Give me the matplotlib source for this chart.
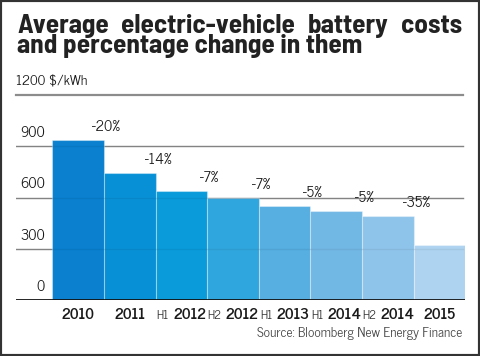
import matplotlib
matplotlib.use("Agg")
import matplotlib.pyplot as plt
from matplotlib.patches import Rectangle
from matplotlib.offsetbox import TextArea, HPacker, AnnotationBbox

# ---- data ----
categories = ["2010", "2011", "H1 2012", "H2 2012", "H1 2013", "H1 2014", "H2 2014", "2015"]
costs = [935, 745, 640, 595, 550, 522, 493, 323]
changes = ["-20%", "-14%", "-7%", "-7%", "-5%", "-5%", "-35%"]
bar_colors = ["#0a80cf", "#0890d6", "#0a9bdb", "#30a6de", "#56aee1", "#72b8e5", "#8fc4ea", "#aed3f0"]
yticks = [0, 300, 600, 900]
top_tick = 1200
unit_label = "1200 $/kWh"
title_lines = ["Average electric-vehicle battery costs", "and percentage change in them"]
source = "Source: Bloomberg New Energy Finance"

W, H = 480, 356
fig = plt.figure(figsize=(W / 100, H / 100), dpi=100)
fig.patch.set_facecolor("white")

NARROW = ["Barlow Semi Condensed", "DejaVu Sans"]
SANS = ["News Cycle", "Liberation Sans", "DejaVu Sans"]

left_px, right_px = 16, 465.3
base_px, top_px = 300, 95
ax = fig.add_axes([left_px / W, (H - base_px) / H, (right_px - left_px) / W, (base_px - top_px) / H])
bar_w_px = 51.6
xl = -0.5 - (52.3 - left_px) / bar_w_px
ax.set_xlim(xl, len(categories) - 0.5)
ax.set_ylim(0, top_tick)
ax.axis("off")

x = list(range(len(categories)))
grid_right = (463 - left_px) / (right_px - left_px)
for v in yticks[1:]:
    ax.axhline(v, xmin=0, xmax=grid_right, color="#8c8c8c", lw=1.0, zorder=0)
    ax.axhline(v, xmin=0, xmax=grid_right, color="black", alpha=0.06, lw=1.0, zorder=3)
ax.axhline(top_tick, xmin=0, xmax=grid_right, color="#8c8c8c", lw=1.6, zorder=0, clip_on=False)

ax.bar(x, costs, width=1.0, color=bar_colors, edgecolor=(1, 1, 1, 0.35), linewidth=0.8, zorder=2)
ax.axhline(0, color="#111111", lw=2.0, zorder=4)

# y tick labels
lab_x = -0.5 - (52.3 - 45) / bar_w_px
for v in yticks:
    ax.annotate(str(v), (lab_x, v), xytext=(0, 9.4), textcoords="offset points",
                ha="right", va="center", fontsize=10.5, family=SANS, color="#1a1a1a")
ax.annotate(unit_label, (xl, top_tick), xytext=(0, 9.4), textcoords="offset points",
            ha="left", va="center", fontsize=10, family=SANS, color="#1a1a1a", annotation_clip=False)

# percent change labels
for i, c in enumerate(changes):
    ax.annotate(c, (i + 0.5, costs[i]), xytext=(1.8, 9.4), textcoords="offset points",
                ha="center", va="center", fontsize=10.5, family=SANS, color="#1a1a1a")

# x labels
for i, cat in enumerate(categories):
    parts = cat.split(" ")
    children = []
    if len(parts) == 2:
        children.append(TextArea(parts[0], textprops=dict(fontsize=8.5, family=SANS, color="#333333")))
        year = parts[1]
    else:
        year = parts[0]
    children.append(TextArea(year, textprops=dict(fontsize=11, family=SANS, color="#1a1a1a",
                                                  fontweight="bold")))
    box = HPacker(children=children, pad=0, sep=3, align="baseline")
    ab = AnnotationBbox(box, (i, 0), xybox=(0, -11), boxcoords="offset points",
                        frameon=False, box_alignment=(0.5, 0.5), annotation_clip=False)
    ax.add_artist(ab)

# source
fig.text(462 / W, 1 - 333 / H, source, ha="right", va="center", fontsize=9.5, family=SANS, color="#444444")

# title: size line 2 to its reference width, justify line 1
fig.canvas.draw()
renderer = fig.canvas.get_renderer()
tprops = dict(family=NARROW, fontweight="bold", color="#222222")
x0, x1 = 17, 462
t2 = fig.text(x0 / W, 1 - 53 / H, title_lines[1], ha="left", va="baseline", fontsize=19, **tprops)
w2 = t2.get_window_extent(renderer).width
fs = 19 * 345 / w2
t2.set_fontsize(fs)
line1 = title_lines[0].split(" ")
words = [fig.text(0, 0, w, ha="left", va="baseline", fontsize=fs, **tprops) for w in line1]
widths = [w.get_window_extent(renderer).width for w in words]
gap = (x1 - x0 - sum(widths)) / (len(words) - 1)
cx = x0
for t, wd in zip(words, widths):
    t.set_position((cx / W, 1 - 33 / H))
    cx += wd + gap

fig.add_artist(Rectangle((0, 0), 1, 1, transform=fig.transFigure, fill=False,
                         edgecolor="#333333", lw=3.0, clip_on=False))

fig.savefig("out.png", dpi=100, facecolor="white")
